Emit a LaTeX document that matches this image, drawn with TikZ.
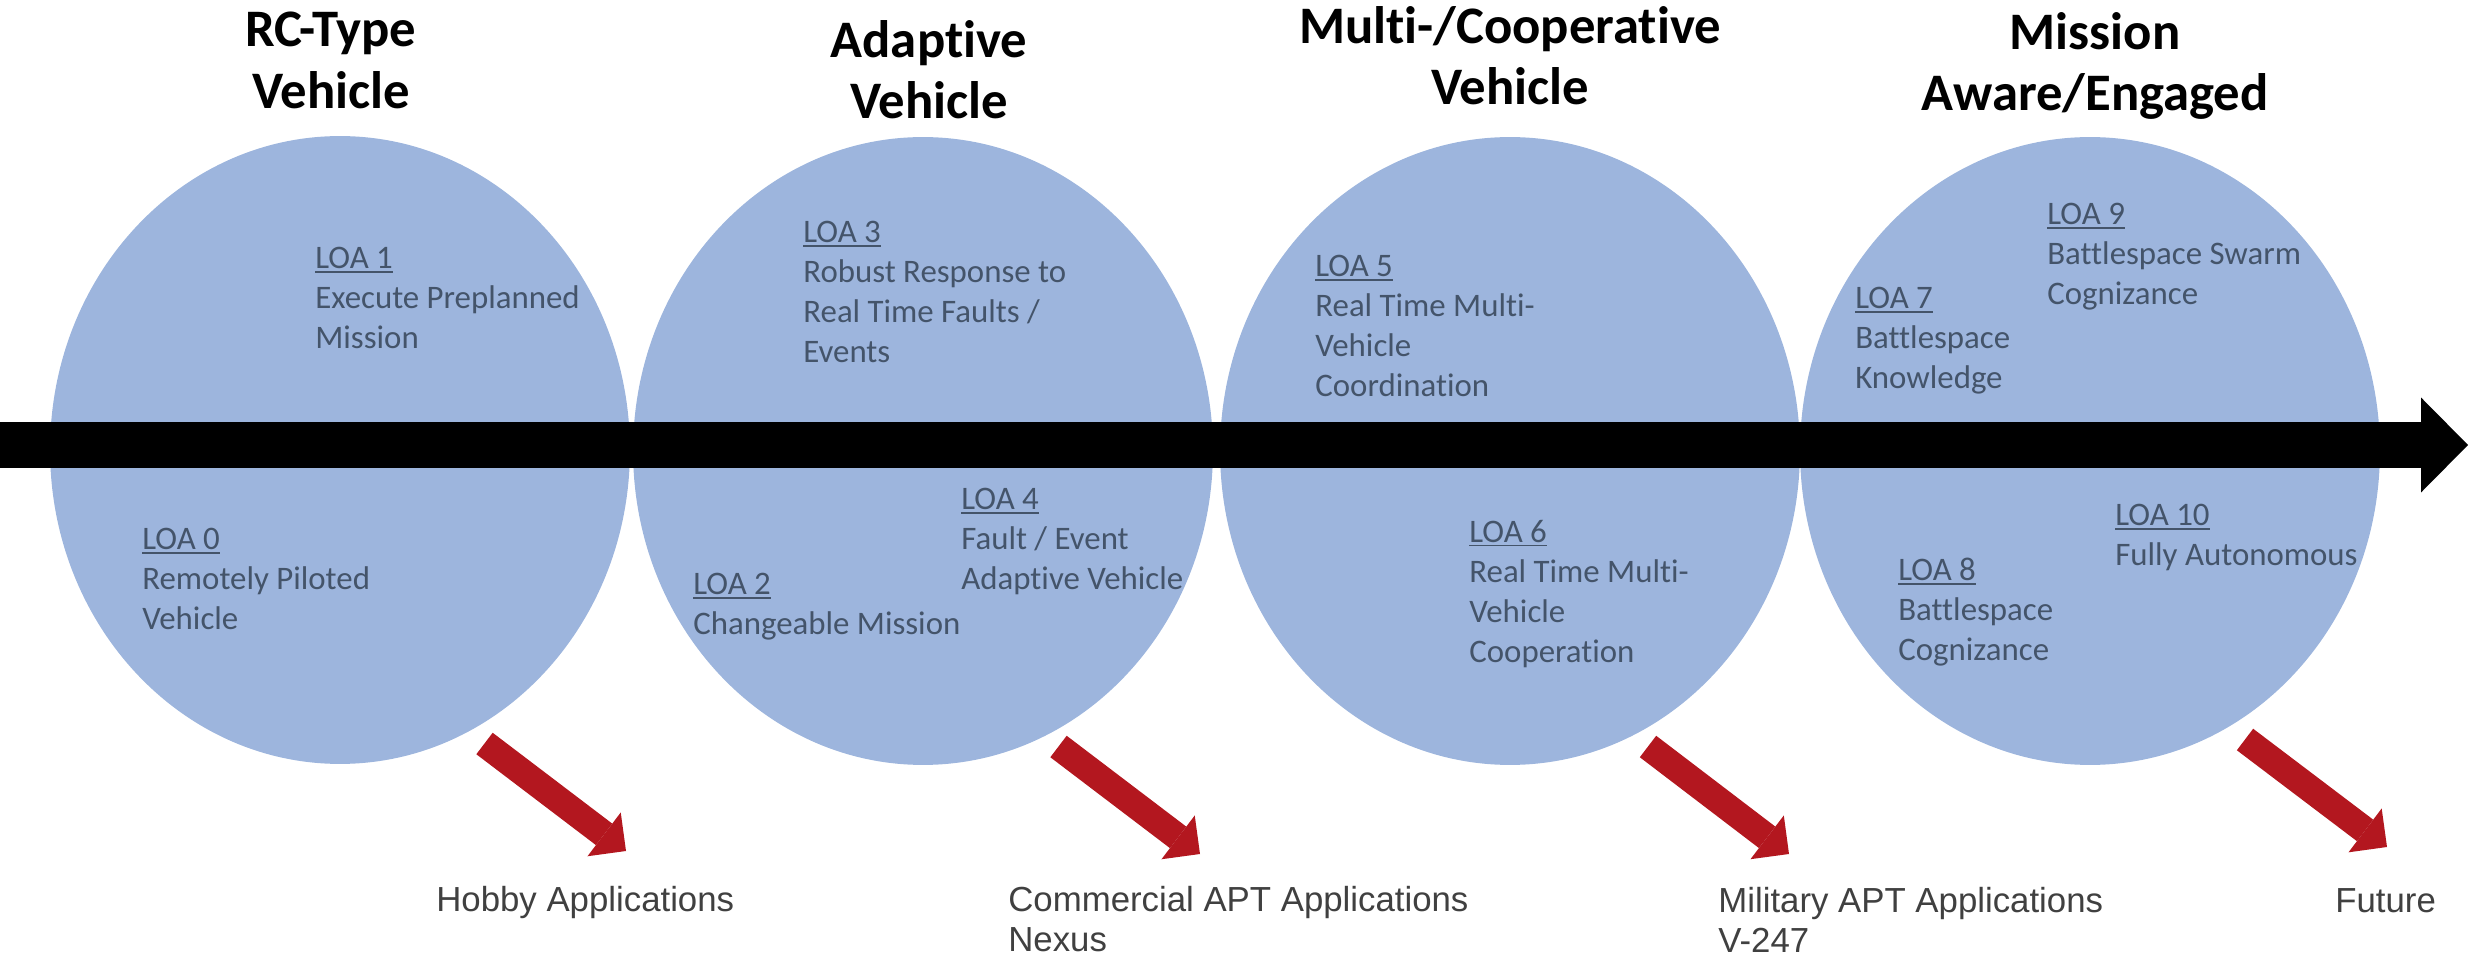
\documentclass[tikz,border=0pt]{standalone}
\usepackage{fontspec}
\setmainfont{Carlito}[Ligatures=NoCommon]
\newfontfamily\appfont{Liberation Sans}
\usetikzlibrary{shapes.geometric,arrows.meta}
\definecolor{stagefill}{HTML}{9DB5DD}
\definecolor{loatext}{HTML}{44546A}
\definecolor{appred}{HTML}{B3171F}
\definecolor{appgray}{HTML}{404040}
\newcommand{\loatag}[1]{\setbox0=\hbox{#1}\rlap{\rule[-2.4pt]{\wd0}{0.9pt}}\box0}
\tikzset{
  stage/.style={ellipse, fill=stagefill, minimum width=11.6cm, minimum height=12.56cm, inner sep=0pt},
  stagetitle/.style={anchor=north, align=center, inner sep=0pt, yshift=25pt,
    execute at begin node={\rule{0pt}{25pt}}, font=\fontsize{30pt}{35pt}\selectfont\bfseries},
  loabox/.style={anchor=north west, align=left, inner sep=0pt, yshift=15pt, text=loatext,
    execute at begin node={\rule{0pt}{15pt}}, font=\fontsize{18.7pt}{22.8pt}\selectfont},
  applabel/.style={anchor=north west, align=left, inner sep=0pt, yshift=16pt, text=appgray,
    execute at begin node={\rule{0pt}{16pt}}, font=\appfont\fontsize{19.8pt}{23pt}\selectfont},
  timeline/.style={line width=0.92cm, -{Triangle[width=1.9cm,length=0.94cm,line width=0pt]}},
  apparrow/.style={draw=appred, line width=0.54cm, -{Triangle[width=1.1cm,length=0.55cm,line width=0pt,fill=appred]}},
}
\begin{document}
\begin{tikzpicture}[x=0.02cm, y=-0.02cm]
  \useasboundingbox (0,0) rectangle (2469,962);
  % Drawing the four stages
  \node[stage] (rc) at (340,450) {};%
  \node[stage] (adaptive) at (923,451) {};%
  \node[stage] (coop) at (1510,451) {};%
  \node[stage] (mission) at (2090,451) {};%

  % Drawing the time line
  \coordinate (timestart) at (0,445);%
  \coordinate (timeend) at (2468,445);%
  \draw[timeline] (timestart) -- (timeend);%

  % Stage titles
  \node[stagetitle] (rctitle) at (331,56) {RC-Type\\Vehicle};%
  \node[stagetitle] (adaptivetitle) at (929,64) {Adaptive\\Vehicle};%
  \node[stagetitle] (cooptitle) at (1510,50) {Multi-/Cooperative\\Vehicle};%
  \node[stagetitle] (missiontitle) at (2095,56) {Mission\\Aware/Engaged};%

  % Levels of RC-Type stage
  \node[loabox] (loa1) at (315,273) {\loatag{LOA 1}\\Execute Preplanned\\Mission};%
  \node[loabox] (loa0) at (142,554) {\loatag{LOA 0}\\Remotely Piloted\\Vehicle};%

  % Levels of adaptive stage
  \node[loabox] (loa3) at (803,247) {\loatag{LOA 3}\\Robust Response to\\Real Time Faults /\\Events};%
  \node[loabox] (loa2) at (693,599) {\loatag{LOA 2}\\Changeable Mission};%
  \node[loabox] (loa4) at (961,514) {\loatag{LOA 4}\\Fault / Event\\Adaptive Vehicle};%

  % Levels of cooperative stage
  \node[loabox] (loa5) at (1315,281) {\loatag{LOA 5}\\Real Time Multi-\\Vehicle\\Coordination};%
  \node[loabox] (loa6) at (1469,546) {\loatag{LOA 6}\\Real Time Multi-\\Vehicle\\Cooperation};%

  % Levels of mission stage
  \node[loabox] (loa9) at (2047,229) {\loatag{LOA 9}\\Battlespace Swarm\\Cognizance};%
  \node[loabox] (loa7) at (1855,313) {\loatag{LOA 7}\\Battlespace\\Knowledge};%
  \node[loabox] (loa10) at (2115,530) {\loatag{LOA 10}\\Fully Autonomous};%
  \node[loabox] (loa8) at (1898,584) {\loatag{LOA 8}\\Battlespace\\Cognizance};%

  % Applications below the stages
  \node[applabel] (hobby) at (436,911) {Hobby Applications};%
  \node[applabel] (commercial) at (1008,914) {Commercial APT Applications\\Nexus};%
  \node[applabel] (military) at (1718,915) {Military APT Applications\\V-247};%
  \node[applabel] (future) at (2335,912) {Future};%

  % Arrows from stages to applications
  \coordinate (rctail) at (484.5,743.5);%
  \coordinate (rctip) at (626,851);%
  \coordinate (adaptivetail) at (1058.5,746.5);%
  \coordinate (adaptivetip) at (1200,854);%
  \coordinate (cooptail) at (1648,746.5);%
  \coordinate (cooptip) at (1789,854);%
  \coordinate (missiontail) at (2245,739.5);%
  \coordinate (missiontip) at (2387,847);%
  \draw[apparrow] (rctail) -- (rctip);%
  \draw[apparrow] (adaptivetail) -- (adaptivetip);%
  \draw[apparrow] (cooptail) -- (cooptip);%
  \draw[apparrow] (missiontail) -- (missiontip);%
\end{tikzpicture}
\end{document}
